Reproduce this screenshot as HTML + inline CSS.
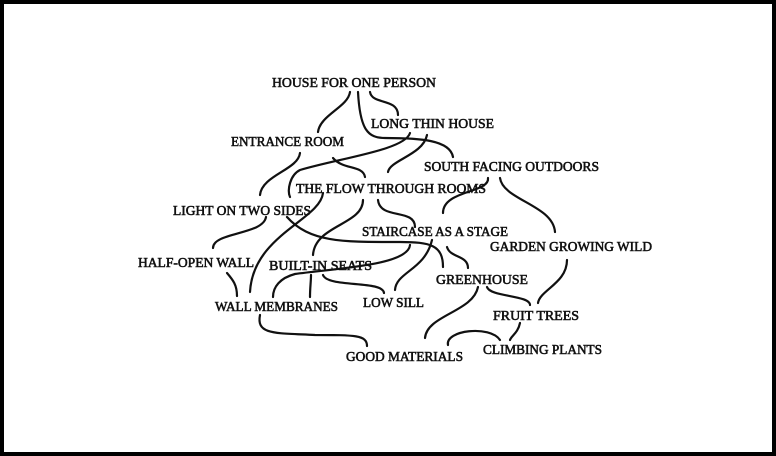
<!DOCTYPE html>
<html><head><meta charset="utf-8"><style>
html,body{margin:0;padding:0;background:#000;}
svg{display:block}
text{font-family:"Liberation Serif",serif;font-size:14px;fill:#111;stroke:#111;stroke-width:0.6;}
path{fill:none;stroke:#111;stroke-width:2.2;stroke-linecap:round}
</style></head><body>
<svg width="776" height="456" viewBox="0 0 776 456" xmlns="http://www.w3.org/2000/svg">
<rect x="0" y="0" width="776" height="456" fill="#000"/>
<rect x="4" y="4" width="768" height="448" fill="#fff"/>
<g>
<path d="M350,92 C348,107 320,115 318,132"/>
<path d="M358,92 C360,130 368,138 385,138 C420,138 450,140 453,157"/>
<path d="M370,92 C372,105 398,98 398,115"/>
<path d="M410,133 C405,150 340,158 300,170 C290,175 287,190 290,197"/>
<path d="M427,135 C423,155 390,160 388,172"/>
<path d="M333,158 C343,170 363,165 365,177"/>
<path d="M300,153 C298,170 262,175 260,195"/>
<path d="M488,178 C490,193 443,190 443,213"/>
<path d="M500,178 C503,200 553,205 555,232"/>
<path d="M323,193 C320,220 253,235 250,292"/>
<path d="M363,200 C363,225 315,225 313,255"/>
<path d="M378,200 C380,220 415,208 415,227"/>
<path d="M266,217 C263,235 213,232 213,248"/>
<path d="M287,217 C310,243 345,242 400,242 C430,242 443,245 443,267"/>
<path d="M410,245 C408,265 340,268 295,274 C280,278 273,287 273,297"/>
<path d="M432,240 C425,270 396,272 395,290"/>
<path d="M447,247 C450,258 468,255 468,268"/>
<path d="M311,275 C311,282 310,287 310,297"/>
<path d="M323,275 C328,288 383,280 384,293"/>
<path d="M227,273 C233,280 237,285 237,296"/>
<path d="M567,260 C567,283 540,290 538,303"/>
<path d="M487,287 C490,297 530,295 530,305"/>
<path d="M478,287 C473,312 427,315 425,338"/>
<path d="M520,323 C518,333 511,336 510,340"/>
<path d="M448,345 C445,330 490,325 500,340"/>
<path d="M260,315 C256,335 275,333 315,335 C355,335 367,335 367,346"/>
</g>
<g>
<text x="272" y="87" textLength="164" lengthAdjust="spacingAndGlyphs">HOUSE FOR ONE PERSON</text>
<text x="371" y="128" textLength="123" lengthAdjust="spacingAndGlyphs">LONG THIN HOUSE</text>
<text x="231" y="146" textLength="113" lengthAdjust="spacingAndGlyphs">ENTRANCE ROOM</text>
<text x="424" y="171" textLength="175" lengthAdjust="spacingAndGlyphs">SOUTH FACING OUTDOORS</text>
<text x="296" y="193" textLength="190" lengthAdjust="spacingAndGlyphs">THE FLOW THROUGH ROOMS</text>
<text x="173" y="215" textLength="138" lengthAdjust="spacingAndGlyphs">LIGHT ON TWO SIDES</text>
<text x="362" y="236" textLength="146" lengthAdjust="spacingAndGlyphs">STAIRCASE AS A STAGE</text>
<text x="490" y="251" textLength="162" lengthAdjust="spacingAndGlyphs">GARDEN GROWING WILD</text>
<text x="138" y="267" textLength="116" lengthAdjust="spacingAndGlyphs">HALF-OPEN WALL</text>
<text x="269" y="270" textLength="103" lengthAdjust="spacingAndGlyphs">BUILT-IN SEATS</text>
<text x="436" y="284" textLength="92" lengthAdjust="spacingAndGlyphs">GREENHOUSE</text>
<text x="215" y="311" textLength="123" lengthAdjust="spacingAndGlyphs">WALL MEMBRANES</text>
<text x="363" y="307" textLength="61" lengthAdjust="spacingAndGlyphs">LOW SILL</text>
<text x="493" y="320" textLength="86" lengthAdjust="spacingAndGlyphs">FRUIT TREES</text>
<text x="483" y="354" textLength="119" lengthAdjust="spacingAndGlyphs">CLIMBING PLANTS</text>
<text x="346" y="361" textLength="117" lengthAdjust="spacingAndGlyphs">GOOD MATERIALS</text>
</g>
</svg>
</body></html>
